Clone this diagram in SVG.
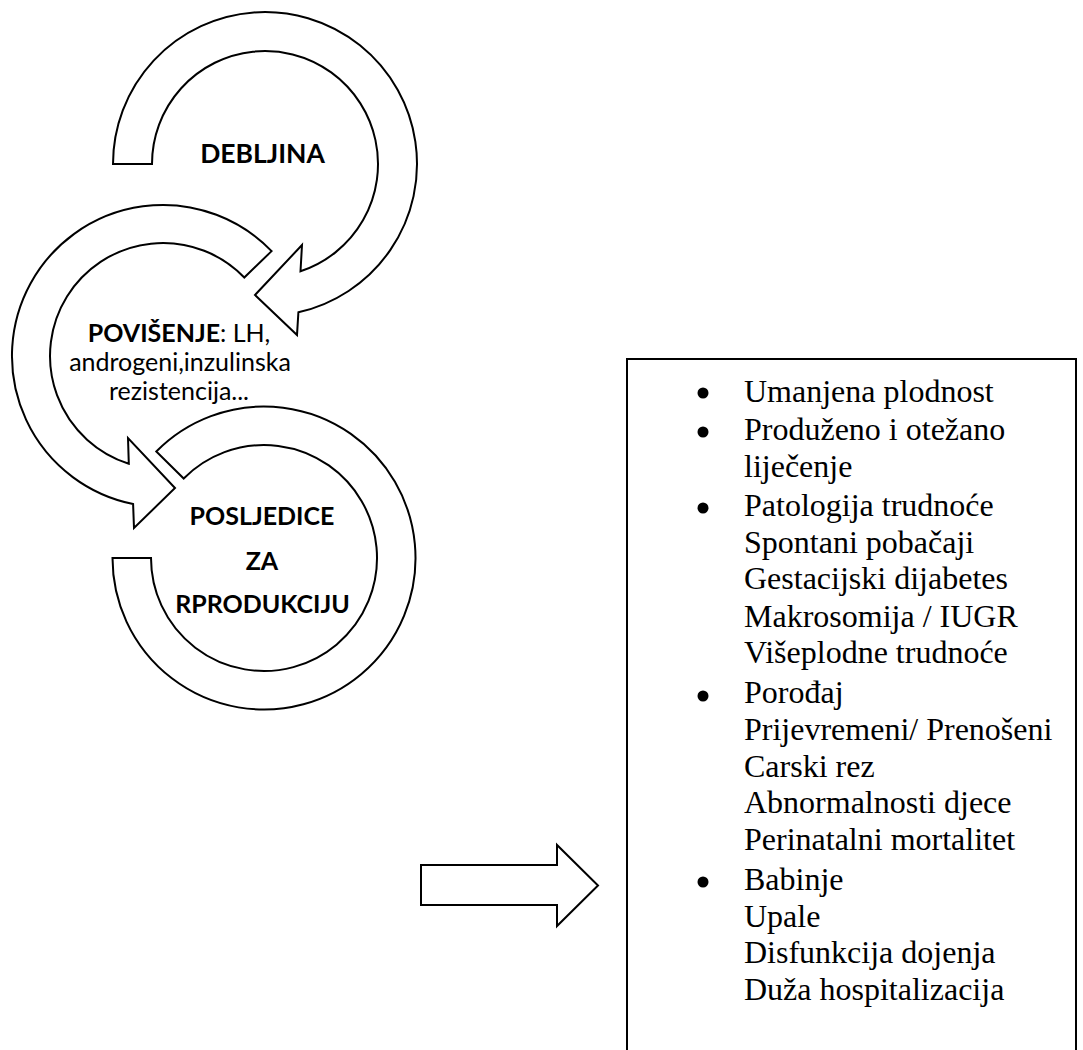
<svg xmlns="http://www.w3.org/2000/svg" width="1083" height="1050" viewBox="0 0 1083 1050">
<style>
.shape{fill:#fff;stroke:#000;stroke-width:2;stroke-linejoin:miter}
.lbl{font-family:Lato,"Open Sans","Liberation Sans",sans-serif;font-size:25px;fill:#000;text-anchor:middle}
.big{font-size:26.5px}
.b{font-weight:bold}
.li{font-family:"Liberation Serif","Times New Roman",serif;font-size:32px;fill:#000}
.dot{fill:#000}
</style>
<rect width="1083" height="1050" fill="#fff"/>
<g id="node-debljina">
<path class="shape" d="M 113 164 A 152 152 0 1 1 298.4 312.3 L 297 335 L 255 295 L 302 245 L 300.5 271.3 A 113 113 0 1 0 152 164 Z"/>
<text class="lbl big b" x="262.5" y="163">DEBLJINA</text>
</g>
<g id="node-povisenje">
<path class="shape" d="M 271.6 251.1 A 151 151 0 1 0 133.1 504 L 134 528 L 175 488 L 128 438 L 128.8 463.7 A 113 113 0 1 1 244.3 277.5 Z"/>
<text class="lbl" x="179" y="342"><tspan class="b">POVIŠENJE</tspan>: LH,</text>
<text class="lbl" x="180" y="371">androgeni,inzulinska</text>
<text class="lbl" x="179" y="400">rezistencija...</text>
</g>
<g id="node-posljedice">
<path class="shape" d="M 112.5 558 A 151.5 151.5 0 1 0 156.3 451.5 L 183.7 478.5 A 113 113 0 1 1 151 558 Z"/>
<text class="lbl b" x="262" y="525">POSLJEDICE</text>
<text class="lbl b" x="262" y="570">ZA</text>
<text class="lbl b" x="262.5" y="613">RPRODUKCIJU</text>
</g>
<g id="node-list">
<path class="shape" d="M 627 1052 L 627 359 L 1076 359 L 1076 1052"/>
<circle class="dot" cx="703" cy="393" r="5.5"/>
<circle class="dot" cx="703" cy="432" r="5.5"/>
<circle class="dot" cx="703" cy="508" r="5.5"/>
<circle class="dot" cx="703" cy="696" r="5.5"/>
<circle class="dot" cx="703" cy="882" r="5.5"/>
<text class="li" x="744" y="402">Umanjena plodnost</text>
<text class="li" x="744" y="440">Produženo i otežano</text>
<text class="li" x="744" y="477">liječenje</text>
<text class="li" x="744" y="516">Patologija trudnoće</text>
<text class="li" x="744" y="553">Spontani pobačaji</text>
<text class="li" x="744" y="589">Gestacijski dijabetes</text>
<text class="li" x="744" y="627">Makrosomija / IUGR</text>
<text class="li" x="744" y="663">Višeplodne trudnoće</text>
<text class="li" x="744" y="703">Porođaj</text>
<text class="li" x="744" y="740">Prijevremeni/ Prenošeni</text>
<text class="li" x="744" y="777">Carski rez</text>
<text class="li" x="744" y="813">Abnormalnosti djece</text>
<text class="li" x="744" y="850">Perinatalni mortalitet</text>
<text class="li" x="744" y="890">Babinje</text>
<text class="li" x="744" y="927">Upale</text>
<text class="li" x="744" y="963">Disfunkcija dojenja</text>
<text class="li" x="744" y="1000">Duža hospitalizacija</text>
</g>
<g id="connectors">
<path class="shape" d="M 421 865 L 557 865 L 557 845 L 598 885.5 L 557 926 L 557 905 L 421 905 Z"/>
</g>
</svg>
